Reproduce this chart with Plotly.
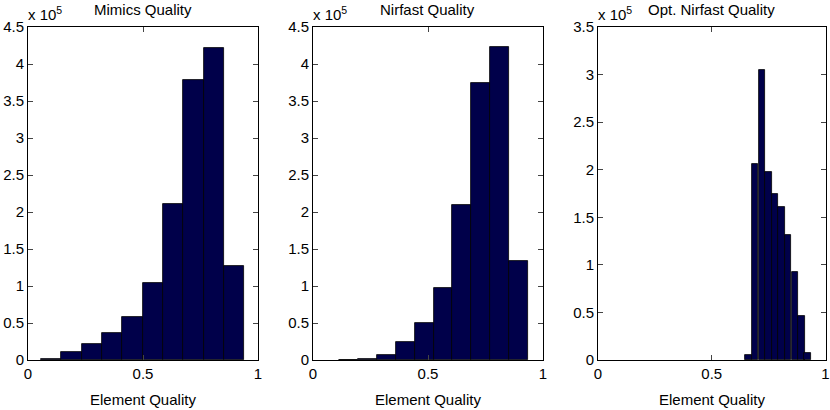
import plotly.graph_objects as go
from plotly.subplots import make_subplots

# ---- data (counts) ----
mimics_centers = [0.100, 0.189, 0.277, 0.366, 0.454, 0.543, 0.631, 0.720, 0.808, 0.897]
mimics_counts = [1000, 11000, 22000, 36000, 58000, 103600, 211000, 378000, 422000, 126600]

nirfast_centers = [0.154, 0.236, 0.318, 0.401, 0.483, 0.565, 0.647, 0.729, 0.812, 0.894]
nirfast_counts = [500, 1300, 7000, 24500, 50500, 97500, 209000, 375000, 423000, 134000]

opt_centers = [0.662, 0.691, 0.720, 0.749, 0.778, 0.807, 0.836, 0.865, 0.894, 0.922]
opt_counts = [5300, 206000, 305000, 198000, 175000, 161000, 131000, 93000, 46000, 7000]

titles = ["Mimics Quality", "Nirfast Quality", "Opt. Nirfast Quality"]
x_ticks = [0, 0.5, 1]
x_ticklabels = ["0", "0.5", "1"]
y_ticks_a = [0, 0.5, 1, 1.5, 2, 2.5, 3, 3.5, 4, 4.5]
y_ticks_b = [0, 0.5, 1, 1.5, 2, 2.5, 3, 3.5]
y_max = [4.5, 4.5, 3.5]
bin_w = [0.0885, 0.0822, 0.0289]

series = [(mimics_centers, mimics_counts), (nirfast_centers, nirfast_counts), (opt_centers, opt_counts)]

fig = make_subplots(rows=1, cols=3)
domains = [[28/830, 258/830], [313/830, 543/830], [598/830, 825.5/830]]
ydom = [50/410, 383/410]
FONT = "Liberation Sans, Arial, sans-serif"
navy = "#00004a"
TS = 15

for i, (cx, cy) in enumerate(series):
    fig.add_trace(go.Bar(x=cx, y=cy, width=bin_w[i], marker=dict(color=navy, line=dict(color="black", width=0.8)),
                         showlegend=False, hoverinfo="skip"), row=1, col=i + 1)
    yt = y_ticks_a if y_max[i] == 4.5 else y_ticks_b
    ax = "" if i == 0 else str(i + 1)
    fig.layout["xaxis" + ax].update(domain=domains[i], range=[0, 1], tickvals=x_ticks, ticktext=x_ticklabels,
                                    ticks="inside", ticklen=5, mirror="ticks", showline=True, linecolor="black",
                                    linewidth=1, showgrid=False, zeroline=False, automargin=False,
                                    ticklabeloverflow="allow",
                                    tickfont=dict(family=FONT, size=TS, color="black"))
    fig.layout["yaxis" + ax].update(domain=ydom, range=[0, y_max[i] * 1e5], tickvals=[v * 1e5 for v in yt],
                                    ticktext=[("%g" % v) for v in yt], ticks="inside", ticklen=5, mirror="ticks",
                                    showline=True, linecolor="black", linewidth=1, showgrid=False, zeroline=False,
                                    automargin=False, ticklabeloverflow="allow",
                                    tickfont=dict(family=FONT, size=TS, color="black"))
    cxp = (domains[i][0] + domains[i][1]) / 2
    fig.add_annotation(x=cxp, y=1 - 9/410, xref="paper", yref="paper", text=titles[i], showarrow=False,
                       font=dict(family=FONT, size=TS, color="black"), xanchor="center", yanchor="middle")
    fig.add_annotation(x=cxp, y=1 - 399/410, xref="paper", yref="paper", text="Element Quality", showarrow=False,
                       font=dict(family=FONT, size=TS, color="black"), xanchor="center", yanchor="middle")
    fig.add_annotation(x=domains[i][0] - 2/830, y=1 - 25/410, xref="paper", yref="paper", text="x 10<sup>5</sup>",
                       showarrow=False, font=dict(family=FONT, size=TS, color="black"), xanchor="left",
                       yanchor="bottom")

fig.update_layout(width=830, height=410, margin=dict(l=0, r=0, t=0, b=0), plot_bgcolor="white",
                  paper_bgcolor="white", bargap=0, hovermode=False)
fig.write_html("out.html", config={"displayModeBar": False},
               post_script="document.body.style.margin='0px';document.body.style.overflow='hidden';")
